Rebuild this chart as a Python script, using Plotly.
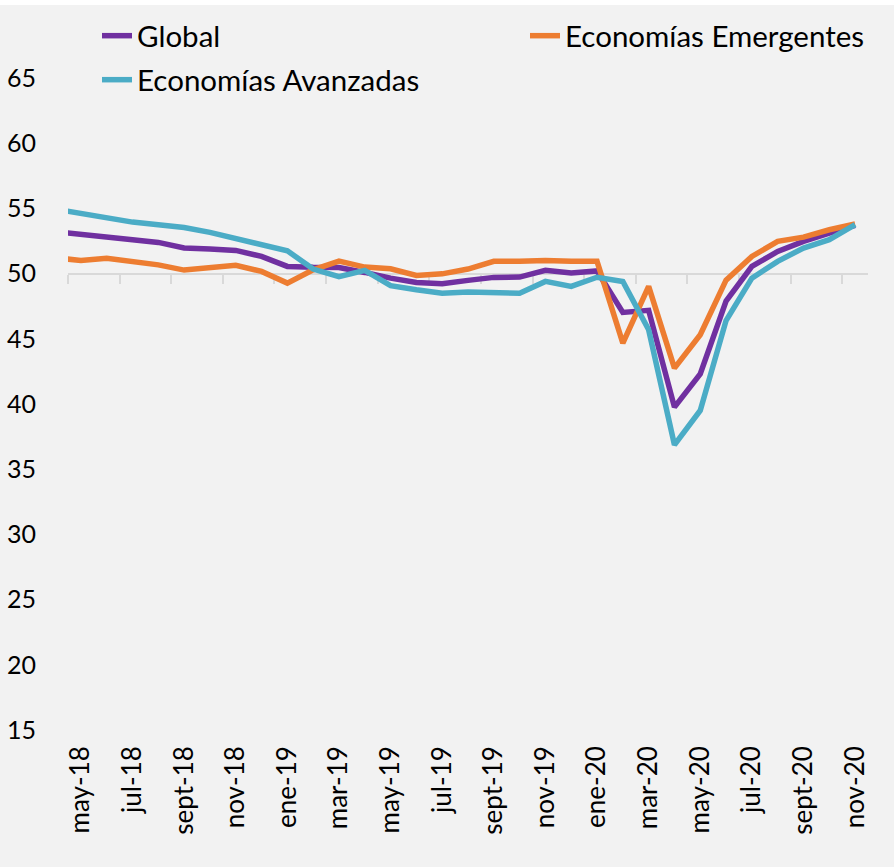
import plotly.graph_objects as go

# Months (abr-18 lies just outside the visible axis range; its line segment is clipped)
categories = ["abr-18", "may-18", "jun-18", "jul-18", "ago-18", "sept-18", "oct-18", "nov-18", "dic-18",
              "ene-19", "feb-19", "mar-19", "abr-19", "may-19", "jun-19", "jul-19", "ago-19",
              "sept-19", "oct-19", "nov-19", "dic-19", "ene-20", "feb-20", "mar-20", "abr-20",
              "may-20", "jun-20", "jul-20", "ago-20", "sept-20", "oct-20", "nov-20"]

global_vals = [53.22, 52.98, 52.78, 52.60, 52.39, 51.96, 51.88, 51.78, 51.32, 50.55, 50.48,
               50.46, 50.09, 49.65, 49.32, 49.22, 49.48, 49.71, 49.73, 50.25, 50.04, 50.20,
               47.02, 47.18, 39.76, 42.30, 47.90, 50.55, 51.70, 52.47, 53.10, 53.70]

emergentes_vals = [51.21, 51.01, 51.17, 50.93, 50.67, 50.27, 50.40, 50.63, 50.17, 49.27, 50.29,
                   50.96, 50.50, 50.37, 49.86, 49.98, 50.35, 50.94, 50.94, 51.01, 50.94, 50.94,
                   44.67, 49.02, 42.75, 45.31, 49.50, 51.32, 52.47, 52.80, 53.36, 53.80]

avanzadas_vals = [54.95, 54.59, 54.33, 53.95, 53.74, 53.54, 53.16, 52.72, 52.29, 51.75, 50.35,
                  49.76, 50.25, 49.07, 48.76, 48.50, 48.58, 48.50, 48.50, 49.40, 49.02, 49.72,
                  49.40, 45.69, 36.87, 39.50, 46.40, 49.65, 50.94, 51.96, 52.60, 53.75]

series_names = ["Global", "Economías Emergentes", "Economías Avanzadas"]
series_colors = ["#7030A0", "#ED7D31", "#4BACC6"]
series_legends = ["legend", "legend2", "legend3"]

y_ticks = [15, 20, 25, 30, 35, 40, 45, 50, 55, 60, 65]
baseline = 50

# month index: may-18 -> 0
x = [i - 1 for i in range(len(categories))]
first_visible = 1
label_idx = list(range(first_visible, len(categories), 2))
tick_vals = [x[i] for i in label_idx]
tick_text = [categories[i] for i in label_idx]
x_min = -0.5
x_max = x[-1] + 0.5
boundary_ticks = [v - 0.5 for v in tick_vals]

FONT = "Lato, 'Open Sans', sans-serif"

# plot area in pixels
L, R, T, B = 68, 868, 78, 730
W, H = 894, 867


def px_x(p):
    return (p - L) / (R - L)


def px_y(p):
    return (B - p) / (B - T)


fig = go.Figure()
for name, vals, col, lg in zip(series_names, [global_vals, emergentes_vals, avanzadas_vals],
                               series_colors, series_legends):
    fig.add_trace(go.Scatter(x=x, y=vals, name=name, mode="lines", legend=lg,
                             line=dict(color=col, width=5.5), hoverinfo="skip"))

# invisible trace to carry the baseline axis
fig.add_trace(go.Scatter(x=[x_min, x_max], y=[baseline, baseline], xaxis="x2", mode="lines",
                         line=dict(width=0), showlegend=False, hoverinfo="skip"))

y_lo, y_hi = y_ticks[0], y_ticks[-1]

legend_common = dict(bgcolor="rgba(0,0,0,0)", font=dict(size=29.5, color="#000000"),
                     xanchor="left", yanchor="middle", borderwidth=0)

fig.update_layout(
    width=W, height=H,
    paper_bgcolor="#f2f2f2", plot_bgcolor="#f2f2f2",
    margin=dict(l=L, r=W - R, t=T, b=H - B, autoexpand=False),
    font=dict(family=FONT, size=25, color="#000000"),
    xaxis=dict(range=[x_min, x_max], tickmode="array", tickvals=tick_vals, ticktext=tick_text,
               tickangle=-90, showgrid=False, zeroline=False, showline=False, ticks="",
               ticklabelstandoff=10, tickfont=dict(size=26), automargin=False),
    xaxis2=dict(range=[x_min, x_max], overlaying="x", anchor="free",
                position=(baseline - y_lo) / (y_hi - y_lo), side="bottom",
                showline=True, linecolor="#d9d9d9", linewidth=2,
                ticks="outside", ticklen=9, tickwidth=2, tickcolor="#d9d9d9",
                tickmode="array", tickvals=boundary_ticks, showticklabels=False,
                showgrid=False, zeroline=False, layer="below traces"),
    yaxis=dict(range=[y_lo, y_hi], tickmode="array", tickvals=y_ticks, showgrid=False,
               zeroline=False, showline=False, ticks="", ticklabelstandoff=31,
               tickfont=dict(size=25), automargin=False),
    legend=dict(x=px_x(97), y=px_y(36), **legend_common),
    legend2=dict(x=px_x(525), y=px_y(36), **legend_common),
    legend3=dict(x=px_x(97), y=px_y(80), **legend_common),
    shapes=[dict(type="rect", xref="paper", yref="paper", x0=px_x(0) - 0.01, x1=px_x(W) + 0.01,
                 y0=px_y(5), y1=px_y(-5), fillcolor="#ffffff", line=dict(width=0), layer="below")],
    showlegend=True,
)

fig.write_html("out.html", config={"displayModeBar": False},
               post_script="document.body.style.margin='0';document.body.style.background='#f2f2f2';")
